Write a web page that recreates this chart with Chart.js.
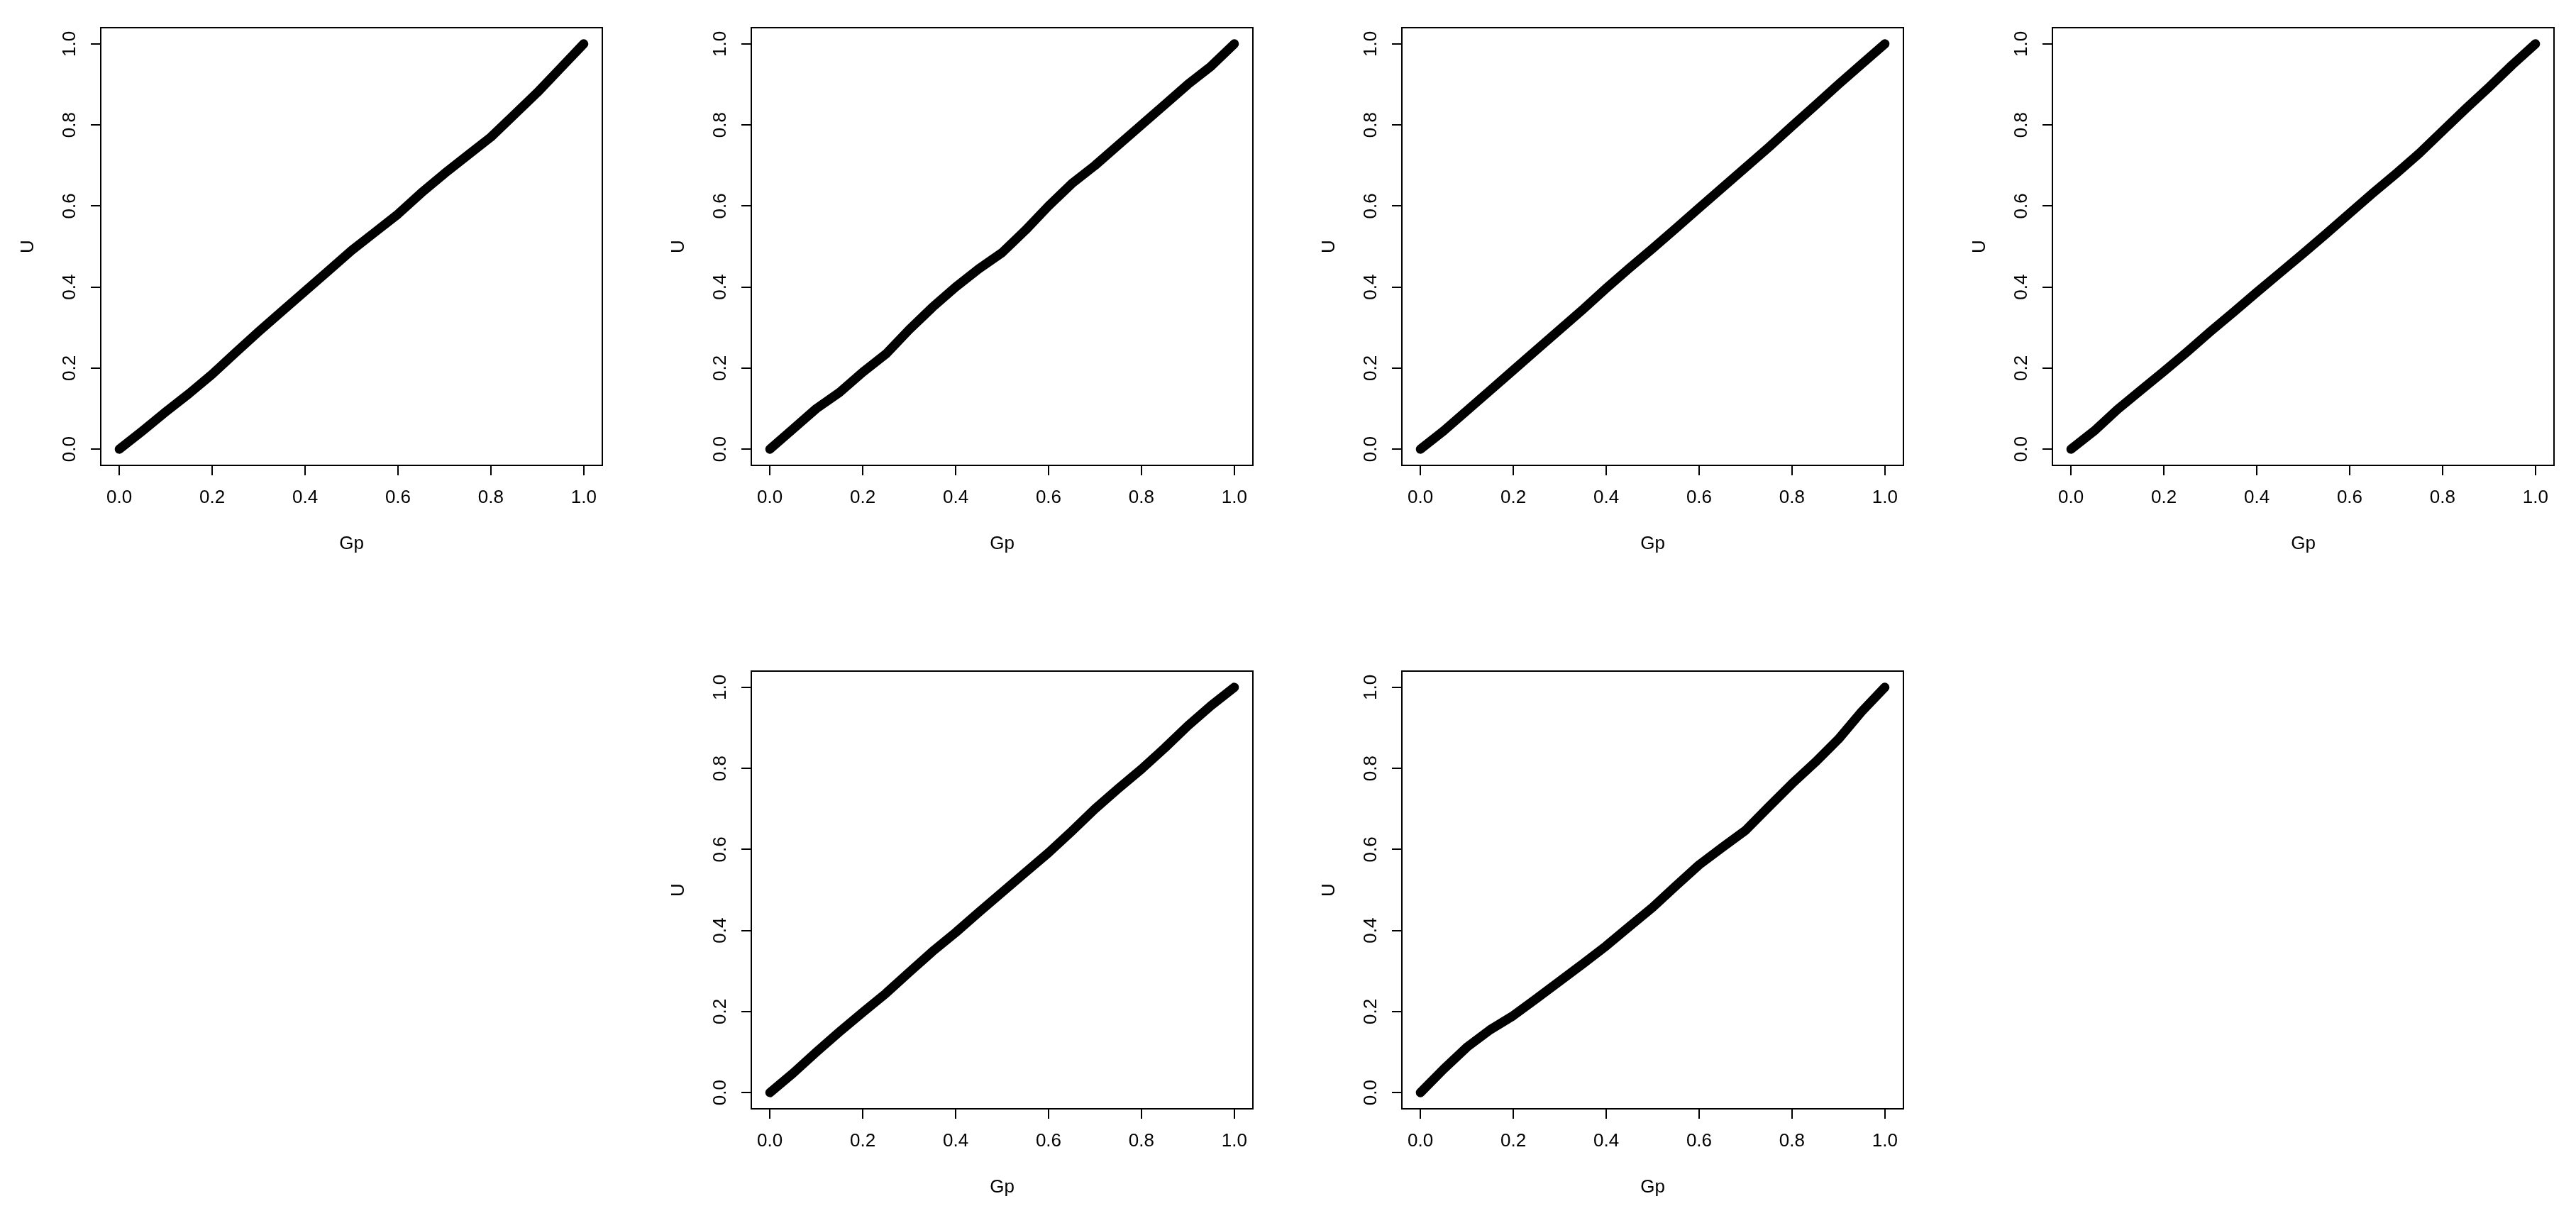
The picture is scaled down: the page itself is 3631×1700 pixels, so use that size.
<!DOCTYPE html>
<html>
<head>
<meta charset="utf-8">
<title>U against Gp</title>
<script src="https://cdn.jsdelivr.net/npm/chart.js@4.4.1/dist/chart.umd.min.js"></script>
<style>
  body { margin: 0; background: #fff; overflow: hidden; }
  #page { position: relative; width: 3631px; height: 1700px; background: #fff; }
  #page canvas { position: absolute; }
</style>
</head>
<body>
<div id="page"></div>
<script>
// x values (Gp)
var gp = [0, 0.05, 0.1, 0.15, 0.2, 0.25, 0.3, 0.35, 0.4, 0.45, 0.5,
          0.55, 0.6, 0.65, 0.7, 0.75, 0.8, 0.85, 0.9, 0.95, 1];

// U values, one array per panel
var u1 = [0, 0.045, 0.092, 0.137, 0.185, 0.238, 0.29, 0.34, 0.39, 0.44, 0.49,
          0.535, 0.58, 0.632, 0.68, 0.725, 0.77, 0.825, 0.88, 0.94, 1];
var u2 = [0, 0.05, 0.1, 0.14, 0.19, 0.235, 0.295, 0.35, 0.4, 0.445, 0.485,
          0.54, 0.6, 0.655, 0.7, 0.75, 0.8, 0.85, 0.9, 0.945, 1];
var u3 = [0, 0.045, 0.095, 0.145, 0.195, 0.245, 0.295, 0.345, 0.397, 0.447, 0.495,
          0.545, 0.595, 0.645, 0.695, 0.745, 0.797, 0.848, 0.9, 0.95, 1];
var u4 = [0, 0.045, 0.098, 0.145, 0.192, 0.24, 0.29, 0.338, 0.387, 0.435, 0.483,
          0.532, 0.582, 0.632, 0.68, 0.73, 0.785, 0.84, 0.893, 0.948, 1];
var u5 = [0, 0.048, 0.1, 0.15, 0.198, 0.245, 0.297, 0.348, 0.395, 0.445, 0.494,
          0.543, 0.592, 0.645, 0.7, 0.75, 0.798, 0.85, 0.905, 0.955, 1];
var u6 = [0, 0.058, 0.112, 0.155, 0.19, 0.232, 0.275, 0.318, 0.362, 0.41, 0.457,
          0.51, 0.562, 0.605, 0.647, 0.705, 0.762, 0.815, 0.872, 0.94, 1];

// axis ticks and titles
var tickValues = [0, 0.2, 0.4, 0.6, 0.8, 1];
var tickLabels = ["0.0", "0.2", "0.4", "0.6", "0.8", "1.0"];
var xTitle = "Gp";
var yTitle = "U";

var panels = [u1, u2, u3, u4, u5, u6];

// where each plot box sits on the page
var boxLeft = [142, 1059, 1976, 2893, 1059, 1976];
var boxTop = [39, 39, 39, 39, 946, 946];
var boxW = 707, boxH = 617;
var padL = 140, padT = 39, padR = 20, padB = 130;

var fontFamily = "'Liberation Sans', Arial, sans-serif";
Chart.defaults.font.family = fontFamily;
Chart.defaults.color = "#000";

//draws the full box and the vertical y tick labels, R style
var framePlugin = {
    id: "frame",
    afterDraw: function(chart) {
        var ctx = chart.ctx;
        var a = chart.chartArea;
        var ys = chart.scales.y;
        ctx.save();
        ctx.strokeStyle = "#000";
        ctx.lineWidth = 2;
        ctx.strokeRect(a.left, a.top, a.right - a.left, a.bottom - a.top);
        ctx.fillStyle = "#000";
        ctx.font = "26px " + fontFamily;
        ctx.textAlign = "center";
        ctx.textBaseline = "alphabetic";
        ys.ticks.forEach(function(t, i) {
            ctx.save();
            ctx.translate(a.left - 36, ys.getPixelForValue(t.value));
            ctx.rotate(-Math.PI / 2);
            ctx.fillText(tickLabels[i], 0, 0);
            ctx.restore();
        });
        ctx.restore();
    }
};

function setTicks(scale) {
    scale.ticks = tickValues.map(function(v) { return { value: v }; });
}

var page = document.getElementById("page");

panels.forEach(function(series, p) {
    var canvas = document.createElement("canvas");
    canvas.width = padL + boxW + padR;
    canvas.height = padT + boxH + padB;
    canvas.style.left = (boxLeft[p] - padL) + "px";
    canvas.style.top = (boxTop[p] - padT) + "px";
    canvas.style.width = canvas.width + "px";
    canvas.style.height = canvas.height + "px";
    page.appendChild(canvas);

    var points = gp.map(function(x, i) { return { x: x, y: series[i] }; });

    new Chart(canvas, {
        type: "scatter",
        data: {
            datasets: [{
                data: points,
                showLine: true,
                borderColor: "#000",
                backgroundColor: "#000",
                borderWidth: 13,
                borderCapStyle: "round",
                borderJoinStyle: "round",
                tension: 0,
                pointRadius: 0
            }]
        },
        options: {
            responsive: false,
            animation: false,
            devicePixelRatio: 1,
            layout: { padding: { left: 0, top: padT, right: padR, bottom: 0 } },
            plugins: {
                legend: { display: false },
                tooltip: { enabled: false },
                title: { display: false }
            },
            scales: {
                x: {
                    type: "linear",
                    position: "bottom",
                    min: -0.04,
                    max: 1.04,
                    afterBuildTicks: setTicks,
                    afterFit: function(s) { s.height = padB; },
                    grid: { drawOnChartArea: false, drawTicks: true, tickLength: 14, color: "#000", lineWidth: 2 },
                    border: { display: true, color: "#000", width: 2 },
                    ticks: {
                        padding: 16,
                        maxRotation: 0,
                        autoSkip: false,
                        font: { size: 26 },
                        color: "#000",
                        callback: function(v, i) { return tickLabels[i]; }
                    },
                    title: { display: true, text: xTitle, font: { size: 26 }, color: "#000", padding: { top: 0, bottom: 4 } }
                },
                y: {
                    type: "linear",
                    position: "left",
                    min: -0.04,
                    max: 1.04,
                    afterBuildTicks: setTicks,
                    afterFit: function(s) { s.width = padL; },
                    grid: { drawOnChartArea: false, drawTicks: true, tickLength: 14, color: "#000", lineWidth: 2 },
                    border: { display: true, color: "#000", width: 2 },
                    ticks: { display: false },
                    title: { display: true, text: yTitle, font: { size: 26 }, color: "#000", padding: { top: 22, bottom: 0 } }
                }
            }
        },
        plugins: [framePlugin]
    });
});
</script>
</body>
</html>
